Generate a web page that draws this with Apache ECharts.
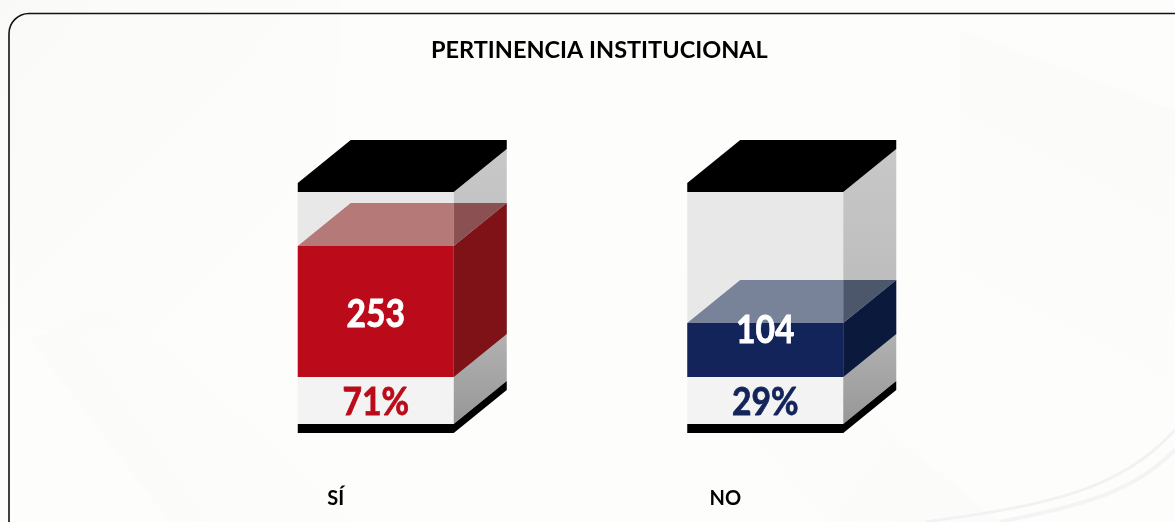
<!DOCTYPE html>
<html>
<head>
<meta charset="utf-8">
<title>Pertinencia institucional</title>
<script src="https://cdn.jsdelivr.net/npm/echarts@6/dist/echarts.min.js"></script>
<style>
  html, body { margin: 0; padding: 0; background: #fdfdfc; }
  #chart { width: 1175px; height: 522px; }
</style>
</head>
<body>
<div id="chart"></div>
<script>
const categories = ['SÍ', 'NO']
const counts = [253, 104]
const percents = ['71%', '29%']
const total = counts[0] + counts[1]

// caras de cada barra: frente, lateral, tapa y tapa sobre el lateral
const barColors = [
  { front: '#bb0b1a', side: '#7e1216', top: '#b57a78', topSide: '#8b5152', pct: '#bb0b1a' },
  { front: '#12245a', side: '#0b1a3c', top: '#788399', topSide: '#4c576c', pct: '#12245a' }
]

const FONT = 'Lato, "Noto Sans", sans-serif'
const BOX_W = 156
const DX = 53
const DY = 43
const LID = 9
const FLOOR = 47
// el numero no va centrado en la barra, igual que en el original
const labelLift = [62, 46]

const poly = (points, fill, z2) => ({ type: 'polygon', shape: { points }, style: { fill }, z2 })

const boxText = (x, y, text, fill) => ({
  type: 'text',
  z2: 5,
  x,
  y,
  scaleX: 0.885,
  style: {
    text,
    fill,
    stroke: fill,
    lineWidth: 0.8,
    font: 'bold 38px ' + FONT,
    align: 'center',
    verticalAlign: 'middle'
  }
})

const renderBox = (params, api) => {
  const i = api.value(0)
  const c = barColors[i]
  const base = api.coord([i, 0])
  const x0 = base[0] - BOX_W / 2
  const x1 = x0 + BOX_W
  const y0 = base[1]
  const yFull = api.coord([i, total])[1]
  const yVal = api.coord([i, api.value(1)])[1]
  const yFloor = y0 + FLOOR

  const sideFill = new echarts.graphic.LinearGradient(0, 0, 0, 1, [
    { offset: 0, color: '#c8c8c8' },
    { offset: 0.55, color: '#bcbcbc' },
    { offset: 1, color: '#979797' }
  ])

  const children = [
    // caja
    poly([[x0, yFull], [x1, yFull], [x1, y0], [x0, y0]], '#e8e8e8', 1),
    poly([[x0, y0], [x1, y0], [x1, yFloor], [x0, yFloor]], '#f3f3f3', 1),
    poly([[x1, yFull], [x1 + DX, yFull - DY], [x1 + DX, yFloor - DY], [x1, yFloor]], sideFill, 1),
    // tapa y piso negros
    poly([[x0, yFull], [x0, yFull - LID], [x0 + DX, yFull - LID - DY], [x1 + DX, yFull - LID - DY], [x1 + DX, yFull - DY], [x1, yFull]], '#000', 2),
    poly([[x0, yFloor], [x1, yFloor], [x1 + DX, yFloor - DY], [x1 + DX, yFloor - DY + LID], [x1, yFloor + LID], [x0, yFloor + LID]], '#000', 2),
    // barra con su valor
    poly([[x0, yVal], [x1, yVal], [x1, y0], [x0, y0]], c.front, 3),
    poly([[x1, yVal], [x1 + DX, yVal - DY], [x1 + DX, y0 - DY], [x1, y0]], c.side, 3),
    poly([[x0, yVal], [x0 + DX, yVal - DY], [x1, yVal - DY], [x1, yVal]], c.top, 3),
    poly([[x1, yVal], [x1, yVal - DY], [x1 + DX, yVal - DY]], c.topSide, 3),
    boxText(base[0], y0 - labelLift[i], String(api.value(1)), '#fff'),
    boxText(base[0], y0 + 26, percents[i], c.pct)
  ]
  return { type: 'group', children }
}

const fade = (x0, y0, x1, y1, color) => new echarts.graphic.LinearGradient(x0, y0, x1, y1, [
  { offset: 0, color },
  { offset: 1, color: 'rgba(253,253,252,0)' }
])

const chart = echarts.init(document.getElementById('chart'))

chart.setOption({
  animation: false,
  backgroundColor: '#fdfdfc',
  title: {
    text: 'PERTINENCIA INSTITUCIONAL',
    left: 426,
    top: 33,
    textStyle: { fontFamily: FONT, fontSize: 23.5, fontWeight: 'bold', color: '#000' }
  },
  graphic: [
    // fondo muy tenue
    { type: 'polygon', z: -10, shape: { points: [[0, 0], [340, 0], [340, 330], [0, 330]] }, style: { fill: fade(0, 0, 1, 1, '#f9f9f8') } },
    { type: 'polygon', z: -10, shape: { points: [[30, 340], [110, 300], [360, 522], [170, 522]] }, style: { fill: fade(0, 1, 1, 0, '#fafaf9') } },
    { type: 'polygon', z: -10, shape: { points: [[510, 170], [640, 230], [1000, 522], [830, 522]] }, style: { fill: fade(1, 1, 0, 0, '#fbfbfa') } },
    { type: 'polygon', z: -10, shape: { points: [[960, 30], [1175, 110], [1175, 400], [960, 440]] }, style: { fill: fade(1, 0, 0, 1, '#fafaf9') } },
    { type: 'bezierCurve', z: -9, shape: { x1: 925, y1: 522, cpx1: 1050, cpy1: 505, cpx2: 1120, cpy2: 490, x2: 1175, y2: 430 }, style: { fill: 'none', stroke: '#f2f2f2', lineWidth: 3 } },
    { type: 'bezierCurve', z: -9, shape: { x1: 1000, y1: 522, cpx1: 1080, cpy1: 505, cpx2: 1130, cpy2: 495, x2: 1175, y2: 450 }, style: { fill: 'none', stroke: '#f4f4f4', lineWidth: 4 } },
    // marco redondeado que se sale del lienzo
    {
      type: 'rect',
      z: -5,
      shape: { x: 9, y: 13.5, width: 1300, height: 640, r: 20 },
      style: { fill: 'none', stroke: '#111', lineWidth: 1.6 }
    }
  ],
  grid: { left: 181, width: 779, top: 192, bottom: 145 },
  xAxis: {
    type: 'category',
    data: categories,
    axisLine: { show: false },
    axisTick: { show: false },
    axisLabel: {
      margin: 112,
      padding: [0, 80, 0, 0],
      color: '#000',
      fontFamily: FONT,
      fontSize: 20,
      fontWeight: 'bold'
    }
  },
  yAxis: {
    type: 'value',
    min: 0,
    max: total,
    show: false,
    splitLine: { show: false }
  },
  series: [
    {
      type: 'custom',
      clip: false,
      renderItem: renderBox,
      encode: { x: 0, y: 1 },
      data: counts.map((v, i) => [i, v])
    }
  ]
})
</script>
</body>
</html>
